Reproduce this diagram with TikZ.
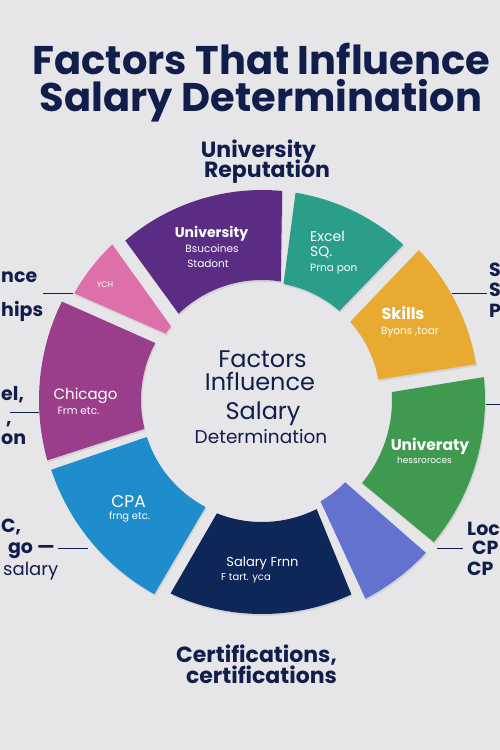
\documentclass[tikz,border=0pt]{standalone}
\usepackage{fontspec}
\setmainfont{Poppins}
\usepackage{xcolor}
\usetikzlibrary{calc,shadows}

\definecolor{bgc}{HTML}{E6E6E8}
\definecolor{navytxt}{HTML}{111E4C}
\definecolor{segpurple}{HTML}{5A2C84}
\definecolor{segteal}{HTML}{2A9E88}
\definecolor{segyellow}{HTML}{E8AA30}
\definecolor{seggreen}{HTML}{3F9A50}
\definecolor{segperi}{HTML}{6371CF}
\definecolor{segnavy}{HTML}{0E2658}
\definecolor{segblue}{HTML}{1F8DCB}
\definecolor{segplum}{HTML}{9A3E8B}
\definecolor{segpink}{HTML}{DE70A9}

% ring piece: colour, inner from/to, outer from/to, inner r, outer r
\newcommand\ringpiece[7]{%
  \fill[piece=#1] ($(C)+(#2:#6)$) arc[start angle=#2,end angle=#3,radius=#6]
    -- ($(C)+(#5:#7)$) arc[start angle=#5,end angle=#4,radius=#7] -- cycle;}

\begin{document}
\begin{tikzpicture}[x=1pt,y=1pt,
  every node/.style={inner sep=0pt},
  ttl/.style={font=\fontsize{40}{42}\selectfont\bfseries,text=navytxt},
  head/.style={font=\fontsize{22}{24}\selectfont\bfseries,text=navytxt},
  side/.style={font=\fontsize{19}{21}\selectfont\bfseries,text=navytxt},
  mid/.style={font=\fontsize{24}{26}\selectfont,text=navytxt},
  segbig/.style={font=\fontsize{14}{16}\selectfont\bfseries,text=white},
  segsub/.style={font=\fontsize{10.5}{12}\selectfont,text=white},
  leader/.style={draw=navytxt,line width=1pt},
  piece/.style={fill=#1,drop shadow={opacity=0.18,shadow xshift=1pt,shadow yshift=-2pt}}]
  \fill[bgc] (0,0) rectangle (500,-750);
  \useasboundingbox (0,0) rectangle (500,-750);
  \clip (0,0) rectangle (500,-750);
  \coordinate (C) at (262,-400);
  % title
  \node[ttl,anchor=base] (title1) at (261.5,-74) {Factors That Influence};
  \node[ttl,anchor=base] (title2) at (261,-111) {Salary Determination};
  \node[head,anchor=base] (rep1) at (258.5,-157) {University};
  \node[head,anchor=base] (rep2) at (267,-177) {Reputation};
  \node[head,anchor=base] (cert1) at (256.5,-662) {Certifications,};
  \node[head,anchor=base] (cert2) at (261.5,-683) {certifications};
  % ring
  \ringpiece{segpurple}{81}{134}{84.5}{130.6}{120pt}{210pt}
  \ringpiece{segteal}{49}{79.5}{47.7}{80.8}{118pt}{210pt}
  \ringpiece{segyellow}{10}{41.6}{9.5}{43.7}{118pt}{217pt}
  \ringpiece{seggreen}{-39.7}{3.5}{-39.6}{5.9}{130pt}{223pt}
  \ringpiece{segperi}{-60}{-44.7}{-62.5}{-43}{117pt}{224pt}
  \ringpiece{segnavy}{-111.7}{-63.4}{-115.3}{-65.3}{122pt}{214pt}
  \ringpiece{segblue}{-162.2}{-117.8}{-161.7}{-119}{121pt}{222pt}
  \ringpiece{segplum}{151.9}{193.8}{153.8}{195.7}{121pt}{223pt}
  \ringpiece{segpink}{141}{145.4}{133.9}{150.4}{117pt}{216pt}
  % centre
  \node[mid,anchor=base] (mid1) at (262.5,-367) {Factors};
  \node[mid,anchor=base] (mid2) at (260,-390) {Influence};
  \node[mid,anchor=base] (mid3) at (263,-419) {Salary};
  \node[mid,anchor=base,font=\fontsize{18.5}{20}\selectfont] (mid4) at (261,-443) {Determination};
  % piece texts
  \node[segbig,anchor=base] (pu1) at (211.5,-237) {University};
  \node[segsub,anchor=base] (pu2) at (212,-252) {Bsucoines};
  \node[segsub,anchor=base] (pu3) at (208,-267) {Stadont};
  \node[segbig,anchor=base west,font=\fontsize{14}{16}\selectfont] (te1) at (310,-241) {Excel};
  \node[segbig,anchor=base west,font=\fontsize{14}{16}\selectfont] (te2) at (310,-256) {SQ.};
  \node[segsub,anchor=base west] (te3) at (310,-271) {Prna pon};
  \node[segbig,anchor=base,font=\fontsize{16}{18}\selectfont\bfseries] (ye1) at (403,-319) {Skills};
  \node[segsub,anchor=base] (ye2) at (410,-334) {Byons ,toar};
  \node[segbig,anchor=base,font=\fontsize{15.5}{17}\selectfont\bfseries] (gr1) at (430,-450) {Univeraty};
  \node[segsub,anchor=base,font=\fontsize{9}{10}\selectfont] (gr2) at (424.5,-463) {hessroroces};
  \node[segbig,anchor=base,font=\fontsize{13}{15}\selectfont] (na1) at (262.5,-566) {Salary Frnn};
  \node[segsub,anchor=base,font=\fontsize{10}{11}\selectfont] (na2) at (246,-580) {F tart. yca};
  \node[segbig,anchor=base,font=\fontsize{17}{19}\selectfont] (bl1) at (128.5,-507) {CPA};
  \node[segsub,anchor=base,font=\fontsize{10}{11}\selectfont] (bl2) at (129.5,-519) {frng etc.};
  \node[segbig,anchor=base,font=\fontsize{15}{17}\selectfont] (pl1) at (85.5,-399) {Chicago};
  \node[segsub,anchor=base] (pl2) at (78.5,-414) {Frm etc.};
  \node[segsub,anchor=base,font=\fontsize{8}{9}\selectfont] (pi1) at (105,-287) {YCH};
  % side labels, left
  \node[side,anchor=base west] (l1a) at (1,-282) {nce};
  \node[side,anchor=base west] (l1b) at (1,-316) {hips};
  \node[side,anchor=base west] (l2a) at (1,-400) {el,};
  \node[side,anchor=base west] (l2b) at (6,-424) {,};
  \node[side,anchor=base west] (l2c) at (1,-444) {on};
  \node[side,anchor=base west] (l3a) at (1,-532) {C,};
  \node[side,anchor=base east] (l3b) at (55,-553) {go —};
  \node[side,anchor=base west,font=\fontsize{18}{20}\selectfont] (l3c) at (3,-575) {salary};
  % side labels, right
  \node[side,anchor=base west] (r1a) at (489,-276) {S};
  \node[side,anchor=base west] (r1b) at (489,-296) {S};
  \node[side,anchor=base west] (r1c) at (489,-317) {P};
  \node[side,anchor=base west] (r3a) at (467,-535) {Loc};
  \node[side,anchor=base west] (r3b) at (472,-554) {CP};
  \node[side,anchor=base west] (r3c) at (467,-575) {CP};
  % leaders
  \coordinate (l1) at (43,-293);   \coordinate (pinktip) at (73,-293);
  \coordinate (l2) at (10,-412);   \coordinate (plumedge) at (39,-412);
  \coordinate (l3) at (58,-548);   \coordinate (blueedge) at (88,-548);
  \coordinate (r1) at (487,-293);  \coordinate (yellowedge) at (452,-293);
  \coordinate (r2) at (500,-404);  \coordinate (greenedge) at (486,-404);
  \coordinate (r3) at (463,-548);  \coordinate (greentip) at (437,-548);
  \draw[leader] (l1) -- (pinktip);
  \draw[leader] (l2) -- (plumedge);
  \draw[leader] (l3) -- (blueedge);
  \draw[leader] (r1) -- (yellowedge);
  \draw[leader] (r2) -- (greenedge);
  \draw[leader] (r3) -- (greentip);
\end{tikzpicture}
\end{document}
